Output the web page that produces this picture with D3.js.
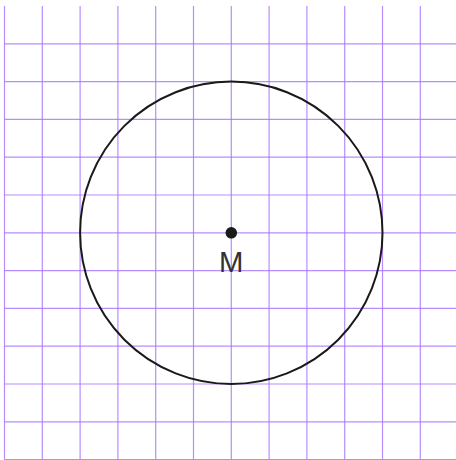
<!DOCTYPE html>
<html>
<head>
<meta charset="utf-8">
<script src="https://cdn.jsdelivr.net/npm/d3@7"></script>
<style>
  html, body { margin: 0; padding: 0; background: #fff; }
  svg { display: block; }
</style>
</head>
<body>
<div id="chart"></div>
<script>
// grid units and the circle
const gridX = [0, 1, 2, 3, 4, 5, 6, 7, 8, 9, 10, 11, 12]
const gridY = [1, 2, 3, 4, 5, 6, 7, 8, 9, 10, 11, 12]
const center = [6, 6]
const radius = 4
const pointLabel = "M"

const width = 456, height = 460

const x = d3.scaleLinear().domain([0, 12]).range([4.5, 458.1])
const y = d3.scaleLinear().domain([0, 12]).range([6, 459.6])

const svg = d3.select("#chart").append("svg")
  .attr("width", width)
  .attr("height", height)

const grid = svg.append("g").attr("class", "grid")
grid.selectAll("line.v").data(gridX).enter()
  .append("line")
    .attr("class", "v")
    .attr("x1", d => x(d)).attr("x2", d => x(d))
    .attr("y1", y(0)).attr("y2", y(12))
    .style("stroke", "#a470ff")
    .style("stroke-opacity", 0.8)
    .style("stroke-width", 1.2)
grid.selectAll("line.h").data(gridY).enter()
  .append("line")
    .attr("class", "h")
    .attr("y1", d => y(d)).attr("y2", d => y(d))
    .attr("x1", x(0)).attr("x2", x(12))
    .style("stroke", "#a470ff")
    .style("stroke-opacity", 0.8)
    .style("stroke-width", 1.2)

svg.append("circle")
  .attr("cx", x(center[0]))
  .attr("cy", y(center[1]))
  .attr("r", x(radius) - x(0))
  .style("fill", "none")
  .style("stroke", "#1a1a1a")
  .style("stroke-width", 2)

svg.append("circle")
  .attr("cx", x(center[0]))
  .attr("cy", y(center[1]))
  .attr("r", 5.8)
  .style("fill", "#1a1a1a")

svg.append("text")
  .attr("x", x(center[0]))
  .attr("y", y(center[1]) + 39)
  .attr("text-anchor", "middle")
  .style("font-family", "Inter, 'Open Sans', sans-serif")
  .style("font-size", "27px")
  .style("fill", "#333")
  .text(pointLabel)
</script>
</body>
</html>
